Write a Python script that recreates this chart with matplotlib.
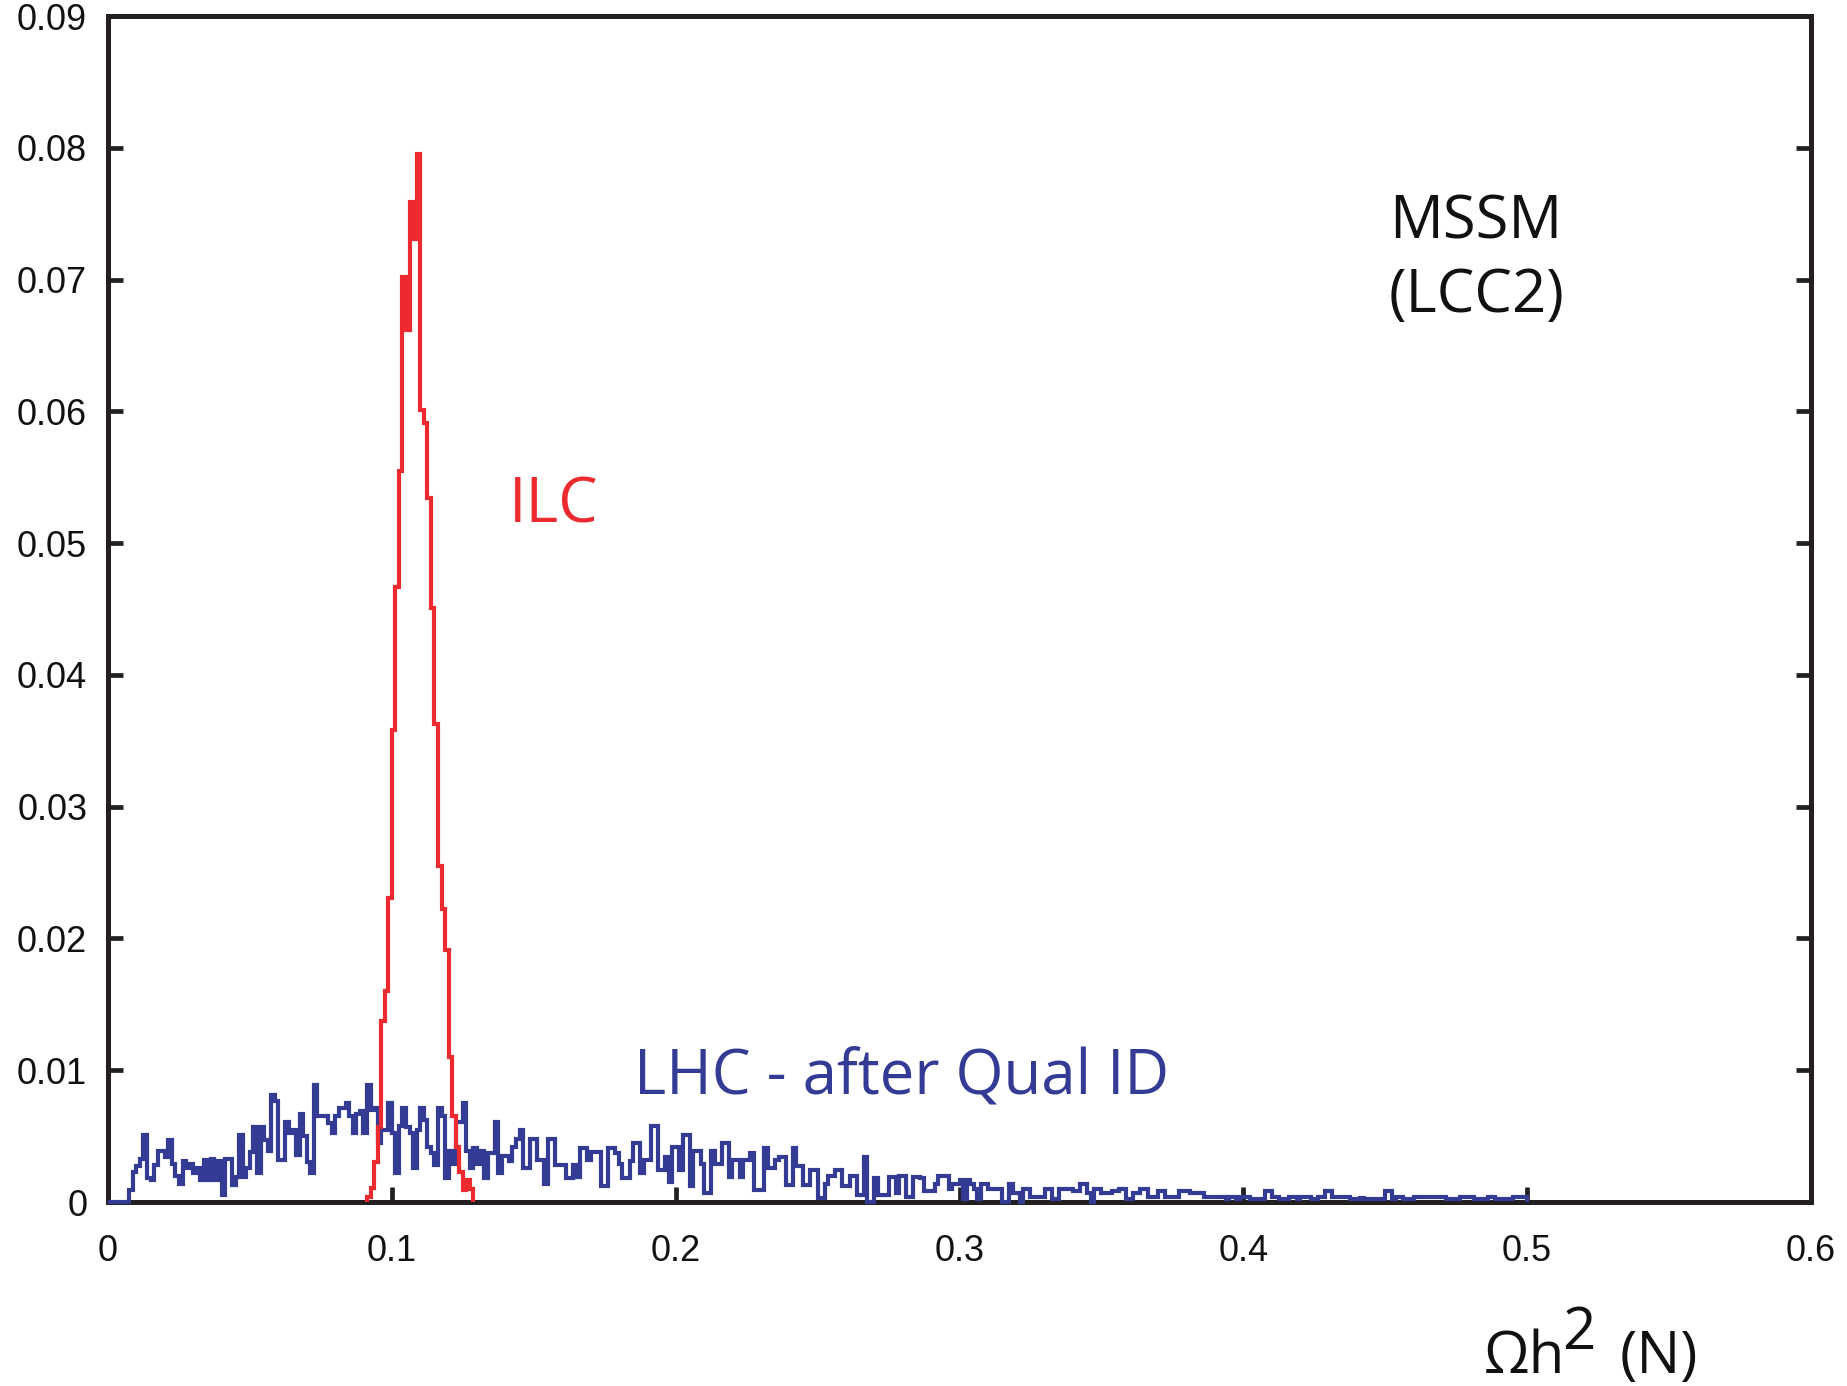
#!/usr/bin/env python3
"""
Relic density histograms: ILC vs LHC (MSSM, LCC2 point).

Two step histograms of Omega h^2, drawn on a 0-0.6 axis with inward ticks
on the left, right and bottom spines.
"""

import numpy as np
import matplotlib

matplotlib.use("Agg")
import matplotlib.pyplot as plt


# ---------------------------------------------------------------------------
# Data
# ---------------------------------------------------------------------------

BIN_WIDTH = 0.00125          # both histograms share the same binning
BLUE_FIRST_BIN = 0           # LHC histogram covers [0, 0.5]
RED_FIRST_BIN = 73           # ILC histogram starts at 0.09125

LHC_VALUES = [
    0, 0, 0, 0, 0, 0, 0.0009, 0.0023, 0.0027, 0.0033,
    0.0051, 0.0018, 0.0017, 0.0028, 0.0039, 0.0039, 0.0034, 0.0047, 0.0029, 0.0020,
    0.0014, 0.0031, 0.0026, 0.0029, 0.0022, 0.0026, 0.0017, 0.0032, 0.0017, 0.0033,
    0.0017, 0.0031, 0.0005, 0.0033, 0.0033, 0.0013, 0.0019, 0.0051, 0.0019, 0.0026,
    0.0038, 0.0057, 0.0022, 0.0057, 0.0047, 0.0039, 0.0081, 0.0077, 0.0032, 0.0032,
    0.0061, 0.0052, 0.0055, 0.0036, 0.0067, 0.0050, 0.0030, 0.0022, 0.0089, 0.0065,
    0.0065, 0.0065, 0.0060, 0.0052, 0.0065, 0.0071, 0.0071, 0.0075, 0.0065, 0.0052,
    0.0067, 0.0069, 0.0052, 0.0089, 0.0070, 0.0071, 0.0045, 0.0055, 0.0055, 0.0075,
    0.0052, 0.0022, 0.0058, 0.0071, 0.0057, 0.0052, 0.0026, 0.0055, 0.0071, 0.0062,
    0.0042, 0.0037, 0.0028, 0.0071, 0.0065, 0.0018, 0.0039, 0.0029, 0.0061, 0.0061,
    0.0075, 0.0039, 0.0026, 0.0041, 0.0029, 0.0039, 0.0018, 0.0037, 0.0037, 0.0061,
    0.0022, 0.0035, 0.0035, 0.0031, 0.0042, 0.0048, 0.0055, 0.0026, 0.0026, 0.0048,
    0.0048, 0.0032, 0.0032, 0.0014, 0.0048, 0.0048, 0.0028, 0.0028, 0.0028, 0.0018,
    0.0018, 0.0028, 0.0019, 0.0041, 0.0041, 0.0032, 0.0038, 0.0038, 0.0038, 0.0012,
    0.0012, 0.0041, 0.0041, 0.0037, 0.0029, 0.0018, 0.0018, 0.0031, 0.0045, 0.0045,
    0.0022, 0.0032, 0.0032, 0.0058, 0.0058, 0.0024, 0.0024, 0.0034, 0.0015, 0.0042,
    0.0042, 0.0024, 0.0051, 0.0051, 0.0012, 0.0039, 0.0039, 0.0029, 0.0007, 0.0007,
    0.0039, 0.0029, 0.0029, 0.0045, 0.0045, 0.0019, 0.0032, 0.0032, 0.0019, 0.0032,
    0.0032, 0.0037, 0.0009, 0.0009, 0.0009, 0.0041, 0.0026, 0.0026, 0.0032, 0.0034,
    0.0034, 0.0013, 0.0013, 0.0041, 0.0027, 0.0027, 0.0013, 0.0013, 0.0024, 0.0024,
    0.0003, 0.0003, 0.0014, 0.0020, 0.0020, 0.0024, 0.0024, 0.0012, 0.0012, 0.0020,
    0.0020, 0.0005, 0.0005, 0.0034, 0.0000, 0.0000, 0.0018, 0.0005, 0.0005, 0.0005,
    0.0019, 0.0019, 0.0007, 0.0020, 0.0020, 0.0004, 0.0004, 0.0019, 0.0019, 0.0018,
    0.0008, 0.0008, 0.0008, 0.0014, 0.0020, 0.0020, 0.0020, 0.0010, 0.0014, 0.0014,
    0.0017, 0.0002, 0.0017, 0.0014, 0.0010, 0.0002, 0.0014, 0.0014, 0.0010, 0.0010,
    0.0010, 0.0010, 0.0000, 0.0000, 0.0014, 0.0007, 0.0007, 0.0000, 0.0010, 0.0010,
    0.0004, 0.0004, 0.0004, 0.0004, 0.0010, 0.0010, 0.0002, 0.0002, 0.0010, 0.0010,
    0.0010, 0.0010, 0.0008, 0.0008, 0.0014, 0.0014, 0.0007, 0.0000, 0.0010, 0.0010,
    0.0007, 0.0007, 0.0007, 0.0008, 0.0008, 0.0010, 0.0010, 0.0002, 0.0002, 0.0007,
    0.0007, 0.0010, 0.0010, 0.0004, 0.0004, 0.0004, 0.0008, 0.0008, 0.0004, 0.0004,
    0.0004, 0.0004, 0.0008, 0.0008, 0.0008, 0.0007, 0.0007, 0.0007, 0.0007, 0.0004,
    0.0004, 0.0004, 0.0004, 0.0004, 0.0004, 0.0002, 0.0004, 0.0004, 0.0002, 0.0004,
    0.0004, 0.0004, 0.0002, 0.0002, 0.0002, 0.0002, 0.0008, 0.0008, 0.0004, 0.0004,
    0.0002, 0.0002, 0.0002, 0.0004, 0.0004, 0.0002, 0.0004, 0.0004, 0.0004, 0.0002,
    0.0002, 0.0004, 0.0004, 0.0008, 0.0008, 0.0004, 0.0004, 0.0004, 0.0004, 0.0004,
    0.0002, 0.0002, 0.0002, 0.0003, 0.0002, 0.0002, 0.0002, 0.0002, 0.0002, 0.0002,
    0.0008, 0.0008, 0.0002, 0.0004, 0.0004, 0.0002, 0.0002, 0.0002, 0.0004, 0.0004,
    0.0004, 0.0004, 0.0004, 0.0004, 0.0004, 0.0004, 0.0004, 0.0002, 0.0002, 0.0002,
    0.0002, 0.0004, 0.0004, 0.0004, 0.0004, 0.0002, 0.0002, 0.0002, 0.0002, 0.0004,
    0.0004, 0.0002, 0.0002, 0.0002, 0.0002, 0.0002, 0.0004, 0.0004, 0.0004, 0.0004,
]

ILC_VALUES = [
    0.0004, 0.0011, 0.0030, 0.0057, 0.0137, 0.0160, 0.0231, 0.0358, 0.0467, 0.0555,
    0.0702, 0.0662, 0.0759, 0.0731, 0.0795, 0.0601, 0.0591, 0.0534, 0.0451, 0.0363,
    0.0255, 0.0222, 0.0191, 0.0110, 0.0065, 0.0042, 0.0023, 0.0009, 0.0017, 0.0010,
]

X_TICKS = [0, 0.1, 0.2, 0.3, 0.4, 0.5, 0.6]
X_TICK_LABELS = ["0", "0.1", "0.2", "0.3", "0.4", "0.5", "0.6"]
Y_TICKS = [0, 0.01, 0.02, 0.03, 0.04, 0.05, 0.06, 0.07, 0.08, 0.09]
Y_TICK_LABELS = ["0", "0.01", "0.02", "0.03", "0.04", "0.05",
                 "0.06", "0.07", "0.08", "0.09"]


# ---------------------------------------------------------------------------
# Style
# ---------------------------------------------------------------------------

STYLE = {
    "ilc":   "#ec2a30",
    "lhc":   "#333b95",
    "axis":  "#231f20",
    "text":  "#111111",
}

TICK_FONT = "Liberation Sans"
LABEL_FONT = "Open Sans"

W_PX, H_PX, DPI = 1847, 1386, 100


def edges_for(first_bin, n_values):
    return (first_bin + np.arange(n_values + 1)) * BIN_WIDTH


def main():
    plt.rcParams["font.family"] = [TICK_FONT, "DejaVu Sans"]

    fig = plt.figure(figsize=(W_PX / DPI, H_PX / DPI), dpi=DPI)
    fig.patch.set_facecolor("white")
    ax = fig.add_axes([108 / W_PX, 1 - 1202 / H_PX,
                       (1811 - 108) / W_PX, (1202 - 16) / H_PX])

    # LHC histogram (blue), then ILC on top (red)
    ax.stairs(LHC_VALUES, edges_for(BLUE_FIRST_BIN, len(LHC_VALUES)),
              color=STYLE["lhc"], linewidth=3.0, zorder=3, clip_on=False)
    ax.stairs(ILC_VALUES, edges_for(RED_FIRST_BIN, len(ILC_VALUES)),
              color=STYLE["ilc"], linewidth=3.0, zorder=4, clip_on=False)

    ax.set_xlim(0, 0.6)
    ax.set_ylim(0, 0.09)
    ax.set_xticks(X_TICKS)
    ax.set_xticklabels(X_TICK_LABELS)
    ax.set_yticks(Y_TICKS)
    ax.set_yticklabels(Y_TICK_LABELS)

    for spine in ax.spines.values():
        spine.set_linewidth(3.6)
        spine.set_color(STYLE["axis"])
        spine.set_zorder(2.5)

    ax.tick_params(axis="both", which="major", direction="in",
                   length=11, width=3.4, color=STYLE["axis"],
                   labelsize=26, labelcolor=STYLE["text"])
    ax.tick_params(axis="y", right=True, left=True, pad=15)
    ax.tick_params(axis="x", top=False, bottom=True, pad=23)

    # Annotations
    ax.text(0.482, 0.0731, "MSSM", fontsize=43, family=LABEL_FONT,
            color=STYLE["text"], ha="center", va="baseline")
    ax.text(0.482, 0.0675, "(LCC2)", fontsize=43, family=LABEL_FONT,
            color=STYLE["text"], ha="center", va="baseline")
    ax.text(0.1413, 0.0516, "ILC", fontsize=45, family=LABEL_FONT,
            color=STYLE["ilc"], ha="left", va="baseline")
    ax.text(0.1853, 0.00827, "LHC - after Qual ID", fontsize=44.5,
            family=LABEL_FONT, color=STYLE["lhc"], ha="left", va="baseline")

    # x-axis label "Ωh² (N)" with a full-size raised 2
    base_y = 1 - 1373 / H_PX
    fig.text(1484 / W_PX, base_y, "Ωh", fontsize=42, family=LABEL_FONT,
             color=STYLE["text"], ha="left", va="baseline")
    fig.text(1562 / W_PX, 1 - 1349 / H_PX, "2", fontsize=42,
             family=LABEL_FONT, color=STYLE["text"], ha="left", va="baseline")
    fig.text(1620 / W_PX, base_y, "(N)", fontsize=42, family=LABEL_FONT,
             color=STYLE["text"], ha="left", va="baseline")

    fig.savefig("out.png", dpi=DPI, facecolor="white")
    plt.close(fig)


if __name__ == "__main__":
    main()
